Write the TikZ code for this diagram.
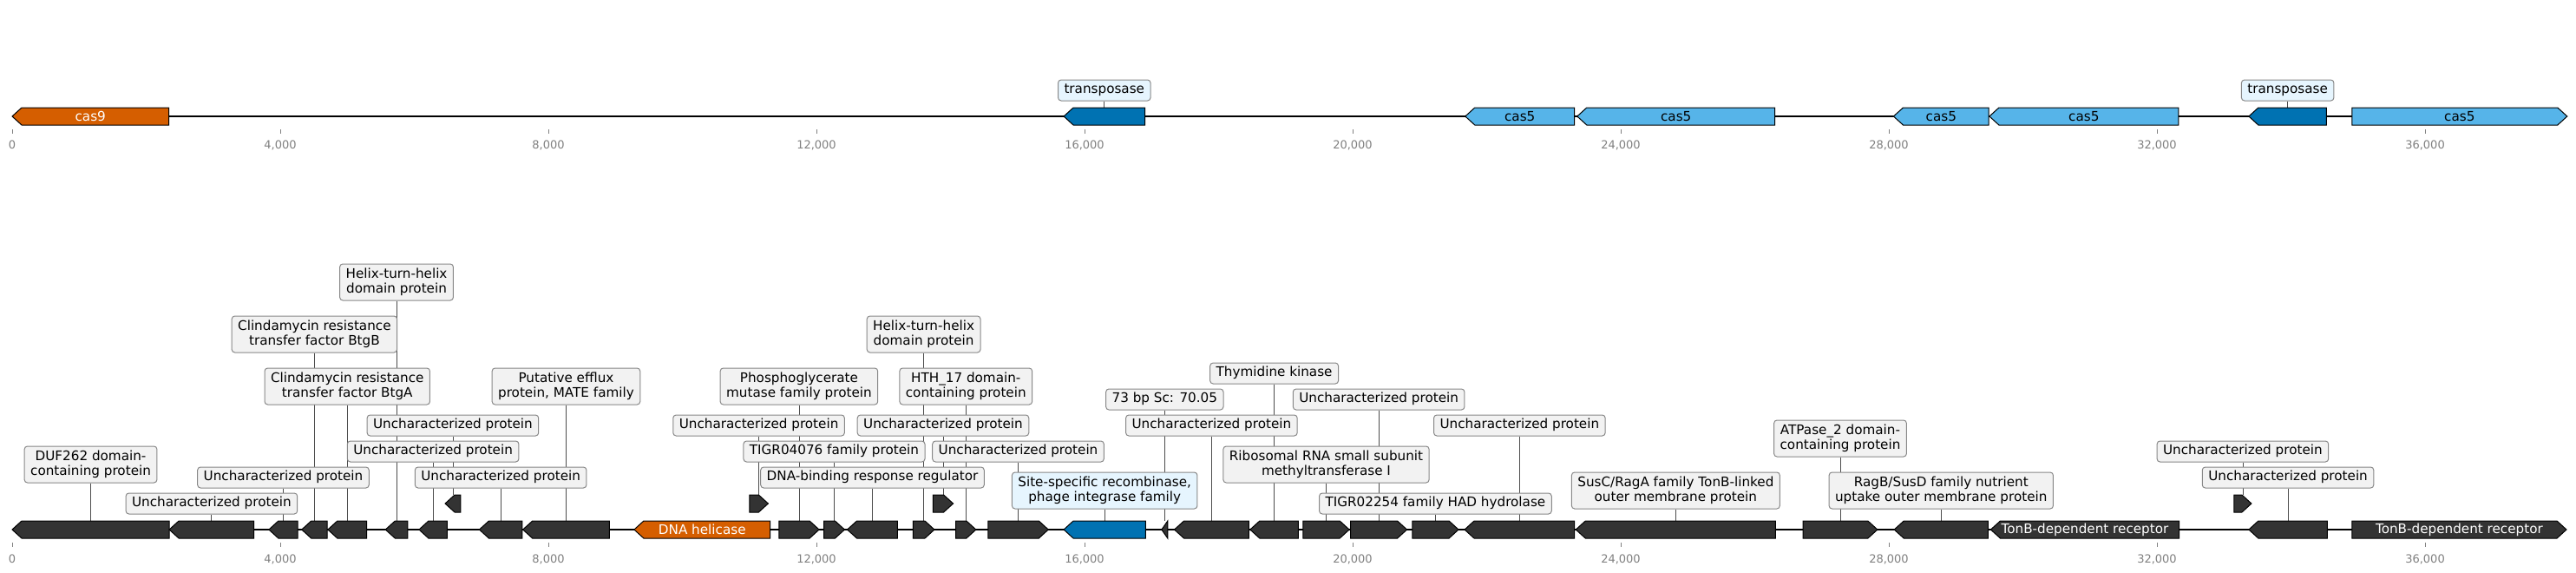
\documentclass[tikz,border=0pt]{standalone}
\usepackage{fontspec}
\setmainfont{DejaVu Sans}
\usepackage{tikz}
\usetikzlibrary{positioning,calc,backgrounds}
\definecolor{casorange}{HTML}{D55E00}
\definecolor{casblue}{HTML}{56B4E9}
\definecolor{tnpblue}{HTML}{0072B2}
\definecolor{genegray}{HTML}{333333}
\definecolor{boxgray}{HTML}{F2F2F2}
\definecolor{boxblue}{HTML}{E6F5FE}
\definecolor{boxedge}{HTML}{888888}
\definecolor{tickgray}{HTML}{808080}

% gene arrows: #1 style, #2 name, #3 start (kb), #4 end (kb), #5 y (px), #6 text
\newcommand{\geneL}[6]{%
  \pgfmathsetmacro{\hd}{min(0.1424,#4-#3)}%
  \draw[gene,#1] (#3,#5) -- (#3+\hd,#5-10) -- (#4,#5-10) -- (#4,#5+10) -- (#3+\hd,#5+10) -- cycle
    ({(#3+#4)/2},#5) node[gtext] (#2) {#6};}
\newcommand{\geneR}[6]{%
  \pgfmathsetmacro{\hd}{min(0.1424,#4-#3)}%
  \draw[gene,#1] (#3,#5-10) -- (#4-\hd,#5-10) -- (#4,#5) -- (#4-\hd,#5+10) -- (#3,#5+10) -- cycle
    ({(#3+#4)/2},#5) node[gtext] (#2) {#6};}

\begin{document}
\begin{tikzpicture}[x=77.25pt, y=-1pt,
  every node/.style={font=\fontsize{15.2}{17}\selectfont, align=center},
  gene/.style={draw=black, line width=1pt},
  dark/.style={fill=genegray, text=white},
  cas/.style={fill=casblue, text=black},
  orange/.style={fill=casorange, text=white},
  tnp/.style={fill=tnpblue, text=white},
  gtext/.style={inner sep=0pt, minimum height=20pt},
  lab/.style={draw=boxedge, fill=boxgray, rounded corners=3.5pt, line width=1pt,
    inner xsep=7pt, inner ysep=3pt, minimum height=24pt, text height=11pt, text depth=3.5pt},
  lab2/.style={draw=boxedge, fill=boxgray, rounded corners=3.5pt, line width=1pt,
    inner xsep=7pt, inner ysep=3pt, minimum height=42pt},
  hl/.style={fill=boxblue},
  conn/.style={draw=black!70, line width=0.8pt},
  track/.style={line width=1.6pt},
  tick/.style={draw=tickgray, line width=0.8pt},
  ticklab/.style={font=\fontsize{13}{15}\selectfont, text=tickgray}]

  \useasboundingbox (-0.1812,0) rectangle (38.2524,659);

  % axes
  \foreach \k in {0,4,...,36} {
    \draw[tick] (\k,149) -- (\k,154) (\k,625) -- (\k,630);
    \node[ticklab] (ta\k) at (\k,167) {\ifnum\k=0 0\else\k,000\fi};
    \node[ticklab] (tb\k) at (\k,644) {\ifnum\k=0 0\else\k,000\fi};
  }

  % top track
  \geneL{orange}{T1}{0}{2.337}{134}{cas9}
  \geneL{tnp}{T2}{15.69}{16.90}{134}{}
  \geneL{cas}{T3}{21.68}{23.31}{134}{cas5}
  \geneL{cas}{T4}{23.35}{26.30}{134}{cas5}
  \geneL{cas}{T5}{28.07}{29.49}{134}{cas5}
  \geneL{cas}{T6}{29.50}{32.32}{134}{cas5}
  \geneL{tnp}{T7}{33.37}{34.53}{134}{}
  \geneR{cas}{T8}{34.91}{38.12}{134}{cas5}
  \node[lab,hl] (lT2) at (T2 |- 0,104) {transposase};
  \node[lab,hl] (lT7) at (T7 |- 0,104) {transposase};

  % bottom track
  \geneL{dark}{B1}{0}{2.344}{610}{}
  \geneL{dark}{B2}{2.344}{3.608}{610}{}
  \geneL{dark}{B3}{3.83}{4.26}{610}{}
  \geneL{dark}{B4}{4.32}{4.70}{610}{}
  \geneL{dark}{B5}{4.71}{5.29}{610}{}
  \geneL{dark}{B6}{5.57}{5.90}{610}{}
  \geneL{dark}{B7}{6.07}{6.49}{610}{}
  \geneL{dark}{B8}{6.46}{6.69}{580}{}
  \geneL{dark}{B9}{6.97}{7.61}{610}{}
  \geneL{dark}{B10}{7.62}{8.91}{610}{}
  \geneL{orange}{B11}{9.28}{11.31}{610}{DNA helicase}
  \geneR{dark}{B12}{11.0}{11.28}{580}{}
  \geneR{dark}{B13}{11.44}{12.04}{610}{}
  \geneR{dark}{B14}{12.11}{12.42}{610}{}
  \geneL{dark}{B15}{12.46}{13.21}{610}{}
  \geneR{dark}{B16}{13.44}{13.76}{610}{}
  \geneR{dark}{B17}{13.74}{14.04}{580}{}
  \geneR{dark}{B18}{14.08}{14.38}{610}{}
  \geneR{dark}{B19}{14.56}{15.46}{610}{}
  \geneL{tnp}{B20}{15.69}{16.91}{610}{}
  \geneL{dark}{B21}{17.15}{17.24}{610}{}
  \geneL{dark}{B22}{17.34}{18.45}{610}{}
  \geneL{dark}{B23}{18.47}{19.19}{610}{}
  \geneR{dark}{B24}{19.26}{19.95}{610}{}
  \geneR{dark}{B25}{19.97}{20.81}{610}{}
  \geneR{dark}{B26}{20.89}{21.58}{610}{}
  \geneL{dark}{B27}{21.67}{23.31}{610}{}
  \geneL{dark}{B28}{23.33}{26.31}{610}{}
  \geneR{dark}{B29}{26.72}{27.83}{610}{}
  \geneL{dark}{B30}{28.08}{29.48}{610}{}
  \geneL{dark}{B31}{29.52}{32.33}{610}{TonB-dependent receptor}
  \geneR{dark}{B32}{33.15}{33.41}{580}{}
  \geneL{dark}{B33}{33.37}{34.54}{610}{}
  \geneR{dark}{B34}{34.91}{38.11}{610}{TonB-dependent receptor}

  \node[lab2] (lB1) at (B1 |- 0,535) {DUF262 domain-\\containing protein};
  \node[lab] (lB2) at (B2 |- 0,580) {Uncharacterized protein};
  \node[lab] (lB3) at (B3 |- 0,550) {Uncharacterized protein};
  \node[lab2] (lB4) at (B4 |- 0,385) {Clindamycin resistance\\transfer factor BtgB};
  \node[lab2] (lB5) at (B5 |- 0,445) {Clindamycin resistance\\transfer factor BtgA};
  \node[lab2] (lB6) at (B6 |- 0,325) {Helix-turn-helix\\domain protein};
  \node[lab] (lB7) at (B7 |- 0,520) {Uncharacterized protein};
  \node[lab] (lB8) at (B8 |- 0,490) {Uncharacterized protein};
  \node[lab] (lB9) at (B9 |- 0,550) {Uncharacterized protein};
  \node[lab2] (lB10) at (B10 |- 0,445) {Putative efflux\\protein, MATE family};
  \node[lab] (lB12) at (B12 |- 0,490) {Uncharacterized protein};
  \node[lab2] (lB13) at (B13 |- 0,445) {Phosphoglycerate\\mutase family protein};
  \node[lab] (lB14) at (B14 |- 0,520) {TIGR04076 family protein};
  \node[lab] (lB15) at (B15 |- 0,550) {DNA-binding response regulator};
  \node[lab2] (lB16) at (B16 |- 0,385) {Helix-turn-helix\\domain protein};
  \node[lab] (lB17) at (B17 |- 0,490) {Uncharacterized protein};
  \node[lab2] (lB18) at (B18 |- 0,445) {HTH\_17 domain-\\containing protein};
  \node[lab] (lB19) at (B19 |- 0,520) {Uncharacterized protein};
  \node[lab2,hl] (lB20) at (B20 |- 0,565) {Site-specific recombinase,\\phage integrase family};
  \node[lab] (lB21) at (B21 |- 0,460) {73 bp Sc: 70.05};
  \node[lab] (lB22) at (B22 |- 0,490) {Uncharacterized protein};
  \node[lab] (lB23) at (B23 |- 0,430) {Thymidine kinase};
  \node[lab2] (lB24) at (B24 |- 0,535) {Ribosomal RNA small subunit\\methyltransferase I};
  \node[lab] (lB25) at (B25 |- 0,460) {Uncharacterized protein};
  \node[lab] (lB26) at (B26 |- 0,580) {TIGR02254 family HAD hydrolase};
  \node[lab] (lB27) at (B27 |- 0,490) {Uncharacterized protein};
  \node[lab2] (lB28) at (B28 |- 0,565) {SusC/RagA family TonB-linked\\outer membrane protein};
  \node[lab2] (lB29) at (B29 |- 0,505) {ATPase\_2 domain-\\containing protein};
  \node[lab2] (lB30) at (B30 |- 0,565) {RagB/SusD family nutrient\\uptake outer membrane protein};
  \node[lab] (lB32) at (B32 |- 0,520) {Uncharacterized protein};
  \node[lab] (lB33) at (B33 |- 0,550) {Uncharacterized protein};

  \begin{scope}[on background layer]
    \draw[track] (0,134) -- (38.12,134);
    \draw[track] (0,610) -- (38.11,610);
    \foreach \g in {T2,T7,B1,B2,B3,B4,B5,B6,B7,B8,B9,B10,B12,B13,B14,B15,B16,B17,B18,
      B19,B20,B21,B22,B23,B24,B25,B26,B27,B28,B29,B30,B32,B33}
      \draw[conn] (l\g.south) -- (\g.north);
  \end{scope}
\end{tikzpicture}
\end{document}
